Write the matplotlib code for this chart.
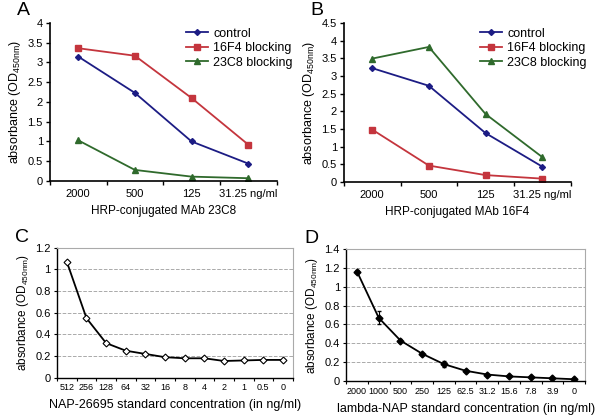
import matplotlib.pyplot as plt
import numpy as np

plt.rcParams['font.family'] = ['Liberation Sans', 'DejaVu Sans']

# panels A / B
doses = ["2000", "500", "125", "31.25 ng/ml"]
a_control = [3.15, 2.23, 1.00, 0.44]
a_16f4 = [3.36, 3.17, 2.10, 0.92]
a_23c8 = [1.03, 0.28, 0.11, 0.07]
b_control = [3.22, 2.72, 1.38, 0.43]
b_16f4 = [1.48, 0.46, 0.19, 0.09]
b_23c8 = [3.49, 3.82, 1.92, 0.70]

# panel C
c_conc = ["512", "256", "128", "64", "32", "16", "8", "4", "2", "1", "0.5", "0"]
c_abs = [1.07, 0.55, 0.32, 0.25, 0.22, 0.19, 0.18, 0.18, 0.155, 0.16, 0.165, 0.165]

# panel D
d_conc = ["2000", "1000", "500", "250", "125", "62.5", "31.2", "15.6", "7.8", "3.9", "0"]
d_abs = [1.16, 0.67, 0.43, 0.29, 0.18, 0.11, 0.07, 0.05, 0.04, 0.03, 0.02]
d_err = [0.02, 0.07, 0.02, 0.01, 0.03, 0.01, 0.01, 0.01, 0.01, 0.01, 0.01]

BLUE = "#1c1c84"
RED = "#c4353d"
GREEN = "#2f6a2c"
YLAB = "absorbance (OD$_{\\mathregular{450nm}}$)"

fig = plt.figure(figsize=(6, 4.17), dpi=100)


def blocking_panel(rect, control, f4, c8, ymax, xlabel, letter):
    ax = fig.add_axes(rect)
    x = np.arange(len(doses))
    ax.plot(x, control, color=BLUE, marker="D", ms=3, lw=1.3, label="control")
    ax.plot(x, f4, color=RED, marker="s", ms=4, lw=1.3, label="16F4 blocking")
    ax.plot(x, c8, color=GREEN, marker="^", ms=4, lw=1.3, label="23C8 blocking")
    ax.set_xlim(-0.5, len(doses) - 0.5)
    ax.set_ylim(0, ymax)
    ax.set_yticks(np.arange(0, ymax + 0.01, 0.5))
    ax.set_yticklabels(["%g" % v for v in np.arange(0, ymax + 0.01, 0.5)])
    ax.set_xticks(x)
    ax.set_xticklabels(doses)
    ax.set_xticks(np.arange(-0.5, len(doses)), minor=True)
    ax.tick_params(axis="x", which="major", length=0, pad=6, labelsize=8)
    ax.tick_params(axis="x", which="minor", length=3, width=1)
    ax.tick_params(axis="y", length=3, width=1, labelsize=8, pad=2)
    for s in ["top", "right"]:
        ax.spines[s].set_visible(False)
    for s in ["left", "bottom"]:
        ax.spines[s].set_linewidth(1.2)
    ax.set_xlabel(xlabel, fontsize=8.5, labelpad=4)
    ax.set_ylabel(YLAB, fontsize=9, labelpad=3)
    ax.legend(loc="upper right", bbox_to_anchor=(1.12, 1.04), frameon=False,
              fontsize=9, handlelength=1.8, labelspacing=0.2, handletextpad=0.4)
    fig.text(rect[0] - 0.055, rect[1] + rect[3] + 0.01, letter, fontsize=14, va="bottom")
    return ax


blocking_panel([0.083, 0.566, 0.378, 0.379], a_control, a_16f4, a_23c8, 4,
               "HRP-conjugated MAb 23C8", "A")
blocking_panel([0.573, 0.564, 0.378, 0.381], b_control, b_16f4, b_23c8, 4.5,
               "HRP-conjugated MAb 16F4", "B")


def standard_panel(rect, labels, vals, ymax, xlabel, letter, filled, err=None):
    ax = fig.add_axes(rect)
    x = np.arange(len(labels))
    ax.yaxis.grid(True, color="#aaaaaa", ls="--", lw=0.7)
    ax.set_axisbelow(True)
    if err is not None:
        ax.errorbar(x, vals, yerr=err, color="black", lw=1.3, capsize=1.5,
                    elinewidth=0.8, marker="D", ms=3.5, mfc="black")
    else:
        ax.plot(x, vals, color="black", lw=1.3, marker="D", ms=3.5,
                mfc="black" if filled else "white", mew=0.8)
    ax.set_xlim(-0.5, len(labels) - 0.5)
    ax.set_ylim(0, ymax)
    yt = np.arange(0, ymax + 0.01, 0.2)
    ax.set_yticks(yt)
    ax.set_yticklabels(["%g" % round(v, 1) for v in yt])
    ax.set_xticks(x)
    ax.set_xticklabels(labels)
    ax.set_xticks(np.arange(-0.5, len(labels)), minor=True)
    ax.tick_params(axis="x", which="major", length=0, pad=4, labelsize=6.5)
    ax.tick_params(axis="x", which="minor", length=2.5, width=0.8)
    ax.tick_params(axis="y", length=2.5, width=0.8, labelsize=8, pad=2)
    for s in ["top", "right"]:
        ax.spines[s].set_color("#aaaaaa")
        ax.spines[s].set_linewidth(0.8)
    for s in ["left", "bottom"]:
        ax.spines[s].set_linewidth(1.0)
    ax.set_xlabel(xlabel, fontsize=9, labelpad=5)
    ax.set_ylabel(YLAB, fontsize=8.5, labelpad=3)
    fig.text(rect[0] - 0.07, rect[1] + rect[3] + 0.005, letter, fontsize=14, va="bottom")
    return ax


standard_panel([0.095, 0.094, 0.393, 0.312], c_conc, c_abs, 1.2,
               "NAP-26695 standard concentration (in ng/ml)", "C", False)
standard_panel([0.577, 0.086, 0.398, 0.317], d_conc, d_abs, 1.4,
               "lambda-NAP standard concentration (in ng/ml)", "D", True, d_err)

fig.savefig("out.png", dpi=100)
